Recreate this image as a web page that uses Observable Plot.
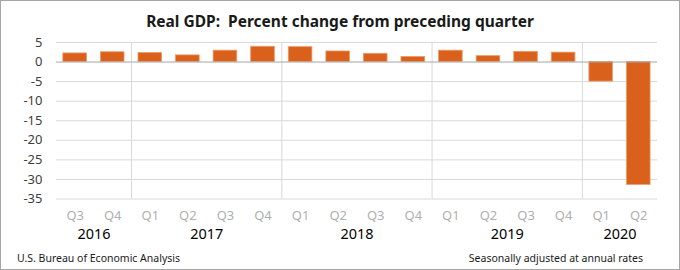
<!DOCTYPE html>
<html><head><meta charset="utf-8">
<script src="https://cdn.jsdelivr.net/npm/d3@7"></script>
<script src="https://cdn.jsdelivr.net/npm/@observablehq/plot@0.6"></script>
<style>
body{margin:0;background:#fff;}
#box{width:680px;height:270px;box-sizing:border-box;border:1px solid #a6a6a6;position:relative;font-family:"Noto Sans",sans-serif;overflow:hidden;background:#fff}
#title{position:absolute;top:9px;left:0;width:100%;text-align:center;font-weight:bold;font-size:15.5px;color:#1a1a1a;white-space:pre}
#chart{position:absolute;top:30px;left:0}
.foot{position:absolute;top:250px;font-size:10.5px;color:#1a1a1a}
</style></head>
<body>
<div id="box">
  <div id="title">Real GDP:  Percent change from preceding quarter</div>
  <div id="chart"></div>
  <div class="foot" style="left:16px">U.S. Bureau of Economic Analysis</div>
  <div class="foot" style="right:36px">Seasonally adjusted at annual rates</div>
</div>
<script>
const years = [2016,2016,2017,2017,2017,2017,2018,2018,2018,2018,2019,2019,2019,2019,2020,2020];
const quarters = ["Q3","Q4","Q1","Q2","Q3","Q4","Q1","Q2","Q3","Q4","Q1","Q2","Q3","Q4","Q1","Q2"];
const values = [2.2,2.5,2.3,1.7,2.9,3.9,3.8,2.7,2.1,1.3,2.9,1.5,2.6,2.4,-5.0,-31.4];
const yTicks = [5,0,-5,-10,-15,-20,-25,-30,-35];

const data = values.map((v,i)=>({i, q:quarters[i], year:years[i], v}));
const yearGroups = d3.groups(data, d=>d.year).map(([year, arr])=>({year, mid:(arr[0].i + arr[arr.length-1].i + 1)/2}));
const boundaries = data.filter((d,i)=>i>0 && years[i]!==years[i-1]).map(d=>d.i);

const chart = Plot.plot({
  width: 680, height: 218,
  marginLeft: 55, marginRight: 22, marginTop: 11, marginBottom: 50,
  style: {fontFamily: '"Noto Sans", sans-serif', fontSize: "13px", color: "#404040", background: "transparent"},
  x: {domain: [0, 16], axis: null},
  y: {domain: [-35, 5], ticks: yTicks, tickSize: 0, tickPadding: 14, label: null, tickFormat: d=>d<0?"-"+Math.abs(d):String(d)},
  marks: [
    Plot.ruleY(yTicks.filter(d=>d!==0), {stroke: "#d9d9d9", strokeWidth: 1}),
    Plot.ruleX(boundaries, {y1: -35, y2: 5, stroke: "#d9d9d9"}),
    Plot.rectY(data, {x1: "i", x2: d=>d.i+1, y: "v", insetLeft: 7, insetRight: 7, fill: "#D9611C", stroke: "#EE9A68", strokeWidth: 0.8}),
    Plot.ruleY([0], {stroke: "#a6a6a6"}),
    Plot.text(data, {x: d=>d.i+0.5, y: -35, text: "q", dy: 17, fill: "#b0b0b0", fontSize: 13}),
    Plot.text(yearGroups, {x: "mid", y: -35, dy: 35, text: d=>String(d.year), fill: "#000", fontSize: 14.5, fontWeight: "normal"})
  ]
});
document.getElementById("chart").appendChild(chart);
</script>
</body></html>
